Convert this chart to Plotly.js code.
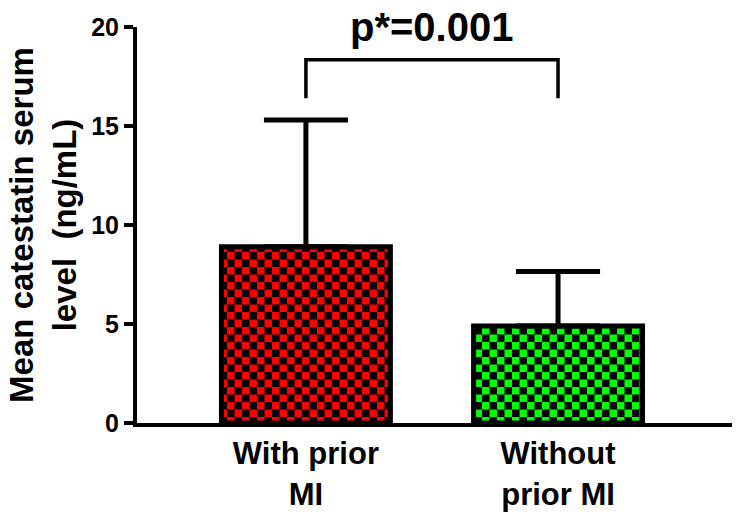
<!DOCTYPE html>
<html>
<head>
<meta charset="utf-8">
<script src="https://cdn.plot.ly/plotly-3.0.1.min.js"></script>
<style>html,body{margin:0;padding:0;background:#fff;}#chart{width:746px;height:529px;}</style>
</head>
<body>
<div id="chart"></div>
<script>
// ---- data ----
var categories = ["With prior<br>MI", "Without<br>prior MI"];
var meanValues = [8.9, 4.9];
var sdUpper = [6.4, 2.75];
var barColors = ["#ff0000", "#00ff00"];
var pValueText = "p*=0.001";
var yTitle = "Mean catestatin serum<br>level&nbsp; (ng/mL)";
var yTickVals = [0, 5, 10, 15, 20];

var FONT = "Liberation Sans, Arial, Helvetica, sans-serif";

var trace = {
  type: "bar",
  x: categories,
  y: meanValues,
  width: 0.67,
  marker: {
    color: barColors,
    line: {color: "#000", width: 5},
    pattern: {shape: "+", bgcolor: "#000", fgcolor: barColors, size: 15, solidity: 0.5, fillmode: "replace"}
  },
  error_y: {
    type: "data", symmetric: false, array: sdUpper, arrayminus: [0, 0],
    color: "#000", thickness: 5, width: 42
  },
  hoverinfo: "skip"
};

var layout = {
  width: 746, height: 529,
  margin: {l: 137, r: 14, t: 27, b: 106},
  paper_bgcolor: "#fff", plot_bgcolor: "#fff",
  showlegend: false,
  font: {family: FONT, color: "#000"},
  xaxis: {
    type: "category",
    range: [-0.67, 1.69],
    showline: true, linecolor: "#000", linewidth: 4,
    ticks: "", showgrid: false, zeroline: false,
    tickfont: {family: FONT, size: 31, weight: "bold", color: "#000"}
  },
  yaxis: {
    range: [0, 20],
    tickvals: yTickVals,
    showline: true, linecolor: "#000", linewidth: 4,
    ticks: "outside", ticklen: 9, tickwidth: 4, tickcolor: "#000",
    showgrid: false, zeroline: false,
    tickfont: {family: FONT, size: 25, weight: "bold", color: "#000"},
    title: {text: yTitle, standoff: 6, font: {family: FONT, size: 33, weight: "bold", color: "#000"}}
  },
  shapes: [{
    type: "path", xref: "x", yref: "y",
    path: "M0,16.4 L0,18.35 L1,18.35 L1,16.4",
    line: {color: "#000", width: 3.5}
  }],
  annotations: [{
    xref: "x", yref: "paper", x: 0.5, y: 1.0, yanchor: "middle",
    text: pValueText, showarrow: false,
    font: {family: FONT, size: 40, weight: "bold", color: "#000"}
  }]
};

var gd = document.getElementById("chart");
Plotly.newPlot(gd, [trace], layout, {staticPlot: true, displayModeBar: false}).then(function () {
  // turn the plus pattern tiles into checkerboard tiles
  var NS = "http://www.w3.org/2000/svg";
  var pats = gd.querySelectorAll("pattern");
  pats.forEach(function (p) {
    var fgEl = p.querySelector("path");
    var fg = fgEl ? (fgEl.style.stroke || fgEl.getAttribute("stroke") || fgEl.style.fill) : null;
    if (!fg) return;
    var s = 15, h = s / 2;
    while (p.firstChild) p.removeChild(p.firstChild);
    p.setAttribute("width", s); p.setAttribute("height", s);
    var bg = document.createElementNS(NS, "rect");
    bg.setAttribute("width", s); bg.setAttribute("height", s); bg.setAttribute("fill", "#000");
    p.appendChild(bg);
    [[0, 0], [h, h]].forEach(function (c) {
      var r = document.createElementNS(NS, "rect");
      r.setAttribute("x", c[0]); r.setAttribute("y", c[1]);
      r.setAttribute("width", h); r.setAttribute("height", h);
      r.setAttribute("fill", fg);
      p.appendChild(r);
    });
  });
});
</script>
</body>
</html>
